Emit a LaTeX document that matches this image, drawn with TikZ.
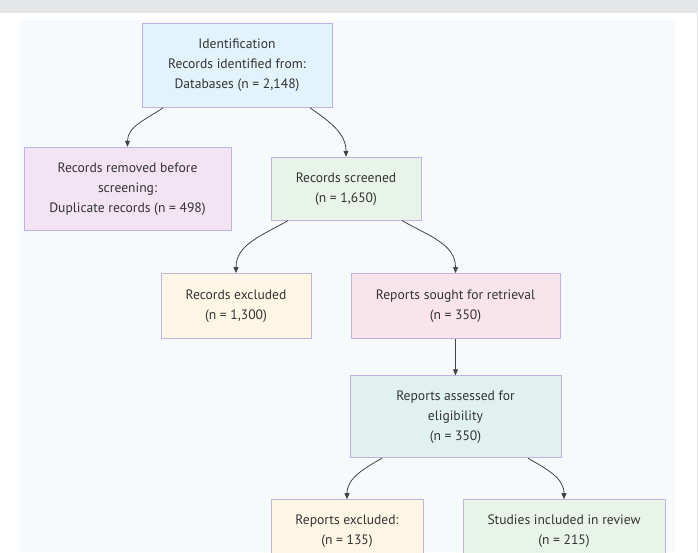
\documentclass[tikz,border=0pt]{standalone}
\usepackage{xcolor}
\usepackage{fontspec}
\setmainfont{PT Sans}
\usepackage{tikz}
\usetikzlibrary{arrows.meta}
\usetikzlibrary{positioning}

\definecolor{stripgray}{HTML}{E5E6E8}
\definecolor{panelblue}{HTML}{F7FAFD}
\definecolor{boxline}{HTML}{C2B2E4}
\definecolor{linkgray}{HTML}{444444}
\definecolor{textgray}{HTML}{333333}
\definecolor{idblue}{HTML}{E3F3FC}
\definecolor{rempurple}{HTML}{F2E4F2}
\definecolor{scrgreen}{HTML}{E9F4E8}
\definecolor{excyellow}{HTML}{FDF6E4}
\definecolor{soughtpink}{HTML}{FAE4EC}
\definecolor{assteal}{HTML}{E1F1F0}

\tikzset{
  stage/.style={draw=boxline, line width=0.8pt, align=center, text=textgray,
    font=\fontsize{13.6pt}{20pt}\selectfont, inner sep=0pt, anchor=north},
  link/.style={draw=linkgray, line width=0.8pt, -{Triangle[length=6pt,width=5pt]}},
}

\begin{document}
\begin{tikzpicture}[x=1pt,y=-1pt]
    \useasboundingbox (0,0) rectangle (698,552);
    \clip (0,0) rectangle (698,552);
    \fill[white] (0,0) rectangle (698,552);
    \fill[stripgray] (0,0) rectangle (698,13);
    \fill[panelblue] (19,20) rectangle (675,552);
    \draw[stripgray] (697.5,13) -- (697.5,552);

    \node(id)[stage, fill=idblue, minimum width=190, minimum height=84] at (237,23)
        {Identification\\Records identified from:\\Databases (n = 2,148)};
    \node(rem)[stage, fill=rempurple, minimum width=207, minimum height=83] at ([xshift=-109.5,yshift=-39]id.south)
        {Records removed before\\screening:\\Duplicate records (n = 498)};
    \node(scr)[stage, fill=scrgreen, minimum width=150, minimum height=63] at ([xshift=109,yshift=-49]id.south)
        {Records screened\\(n = 1,650)};
    \node(rex)[stage, fill=excyellow, minimum width=150, minimum height=65] at ([xshift=-110,yshift=-52.5]scr.south)
        {Records excluded\\(n = 1,300)};
    \node(rsr)[stage, fill=soughtpink, minimum width=209, minimum height=65] at ([xshift=109.5,yshift=-52.5]scr.south)
        {Reports sought for retrieval\\(n = 350)};
    \node(ass)[stage, fill=assteal, minimum width=211, minimum height=82] at ([yshift=-36.5]rsr.south)
        {Reports assessed for\\eligibility\\(n = 350)};
    \node(rpx)[stage, fill=excyellow, minimum width=152, minimum height=64] at ([xshift=-108.5,yshift=-41]ass.south)
        {Reports excluded:\\(n = 135)};
    \node(inc)[stage, fill=scrgreen, minimum width=202, minimum height=64] at ([xshift=108.5,yshift=-41]ass.south)
        {Studies included in review\\(n = 215)};

    \draw[link] ([xshift=-74]id.south) to[out=-145,in=90] (rem.north);
    \draw[link] ([xshift=73]id.south) to[out=-35,in=90] (scr.north);
    \draw[link] ([xshift=-58]scr.south) to[out=-150,in=90] (rex.north);
    \draw[link] ([xshift=56]scr.south) to[out=-30,in=90] (rsr.north);
    \draw[link] (rsr.south) -- (ass.north);
    \draw[link] ([xshift=-73.5]ass.south) to[out=-150,in=90] (rpx.north);
    \draw[link] ([xshift=72.5]ass.south) to[out=-30,in=90] (inc.north);
\end{tikzpicture}
\end{document}
